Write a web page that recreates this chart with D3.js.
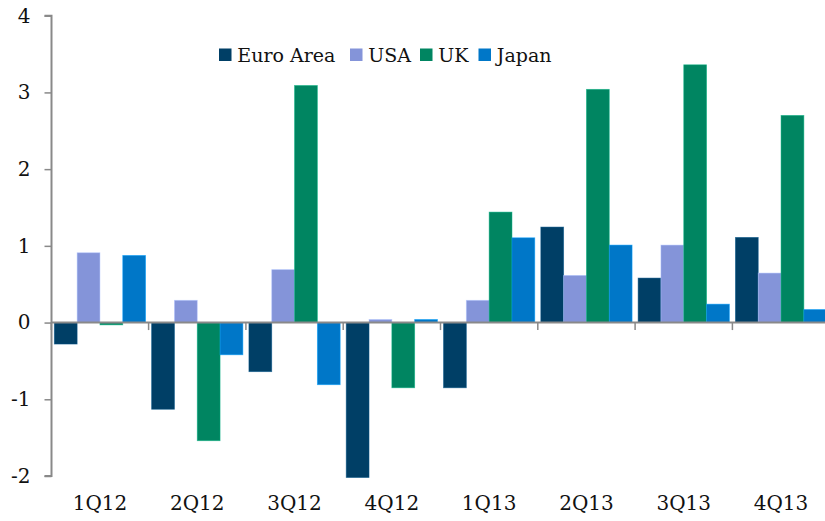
<!DOCTYPE html>
<html>
<head>
<meta charset="utf-8">
<script src="https://cdn.jsdelivr.net/npm/d3@7"></script>
<style>
  html, body { margin: 0; padding: 0; background: #fff; }
  svg { display: block; }
  text { font-family: "DejaVu Serif", "Liberation Serif", serif; fill: #111; }
</style>
</head>
<body>
<svg id="chart" width="825" height="521"></svg>
<script>
const categories = ["1Q12", "2Q12", "3Q12", "4Q12", "1Q13", "2Q13", "3Q13", "4Q13"];
const seriesNames = ["Euro Area", "USA", "UK", "Japan"];
const euroArea = [-0.28, -1.13, -0.64, -2.02, -0.85, 1.245, 0.58, 1.11];
const usa      = [0.91, 0.29, 0.69, 0.04, 0.29, 0.615, 1.01, 0.645];
const uk       = [-0.03, -1.54, 3.09, -0.85, 1.44, 3.04, 3.36, 2.70];
const japan    = [0.875, -0.42, -0.81, 0.04, 1.105, 1.01, 0.24, 0.17];
const yTicks = [-2, -1, 0, 1, 2, 3, 4];
const colors = ["#003f66", "#8494d9", "#008561", "#0077c8"];

const seriesValues = [euroArea, usa, uk, japan];
const svg = d3.select("#chart");
const axisColor = "#898989";

const x0 = d3.scaleBand().domain(categories).range([51.3, 829.7])
  .paddingInner(0.062).paddingOuter(0.031);
const x1 = d3.scaleBand().domain(seriesNames).range([0, x0.bandwidth()]);
const y = d3.scaleLinear().domain([-2, 4]).range([476, 15.7]);
const color = d3.scaleOrdinal().domain(seriesNames).range(colors);

// bars
const rows = [];
categories.forEach((c, i) => {
  seriesNames.forEach((s, j) => rows.push({cat: c, series: s, value: seriesValues[j][i]}));
});
svg.append("g").selectAll("rect").data(rows).join("rect")
  .attr("x", d => x0(d.cat) + x1(d.series))
  .attr("width", x1.bandwidth())
  .attr("y", d => y(Math.max(0, d.value)))
  .attr("height", d => Math.abs(y(d.value) - y(0)))
  .attr("fill", d => color(d.series))
  .attr("stroke", d => d3.color(color(d.series)).brighter(0.8))
  .attr("stroke-opacity", 0.6)
  .attr("stroke-width", 0.8);

// y axis
const yAxis = svg.append("g").attr("transform", "translate(51.5,0)")
  .call(d3.axisLeft(y).tickValues(yTicks).tickSize(7).tickPadding(14).tickFormat(d => String(d)));
yAxis.select(".domain").attr("stroke", axisColor).attr("stroke-width", 2)
  .attr("d", `M-7,${y(4)}H0V${y(-2)}H-7`);
yAxis.selectAll(".tick line").attr("stroke", axisColor).attr("stroke-width", 1.5);
yAxis.selectAll(".tick text").attr("font-size", 20).attr("font-family", "DejaVu Serif").attr("fill", "#111");

// zero line with category ticks
svg.append("line").attr("x1", 51).attr("x2", 825).attr("y1", y(0)).attr("y2", y(0))
  .attr("stroke", axisColor).attr("stroke-width", 2);
const boundaries = categories.map(c => x0(c) - (x0.step() - x0.bandwidth()) / 2);
svg.append("g").selectAll("line").data(boundaries).join("line")
  .attr("x1", d => d).attr("x2", d => d)
  .attr("y1", y(0)).attr("y2", y(0) + 7.5)
  .attr("stroke", axisColor).attr("stroke-width", 1.5);

// x labels
svg.append("g").selectAll("text").data(categories).join("text")
  .attr("x", d => x0(d) + x0.bandwidth() / 2)
  .attr("y", 510)
  .attr("text-anchor", "middle")
  .attr("font-size", 20)
  .text(d => d);

// legend
const legendX = [219, 350, 420, 478.5];
const lg = svg.append("g").selectAll("g").data(seriesNames).join("g")
  .attr("transform", (d, i) => `translate(${legendX[i]},0)`);
lg.append("rect").attr("x", 0).attr("y", 48.5).attr("width", 12.5).attr("height", 12.5)
  .attr("fill", d => color(d));
lg.append("text").attr("x", 18.3).attr("y", 61.5).attr("font-size", 19).text(d => d);
</script>
</body>
</html>
